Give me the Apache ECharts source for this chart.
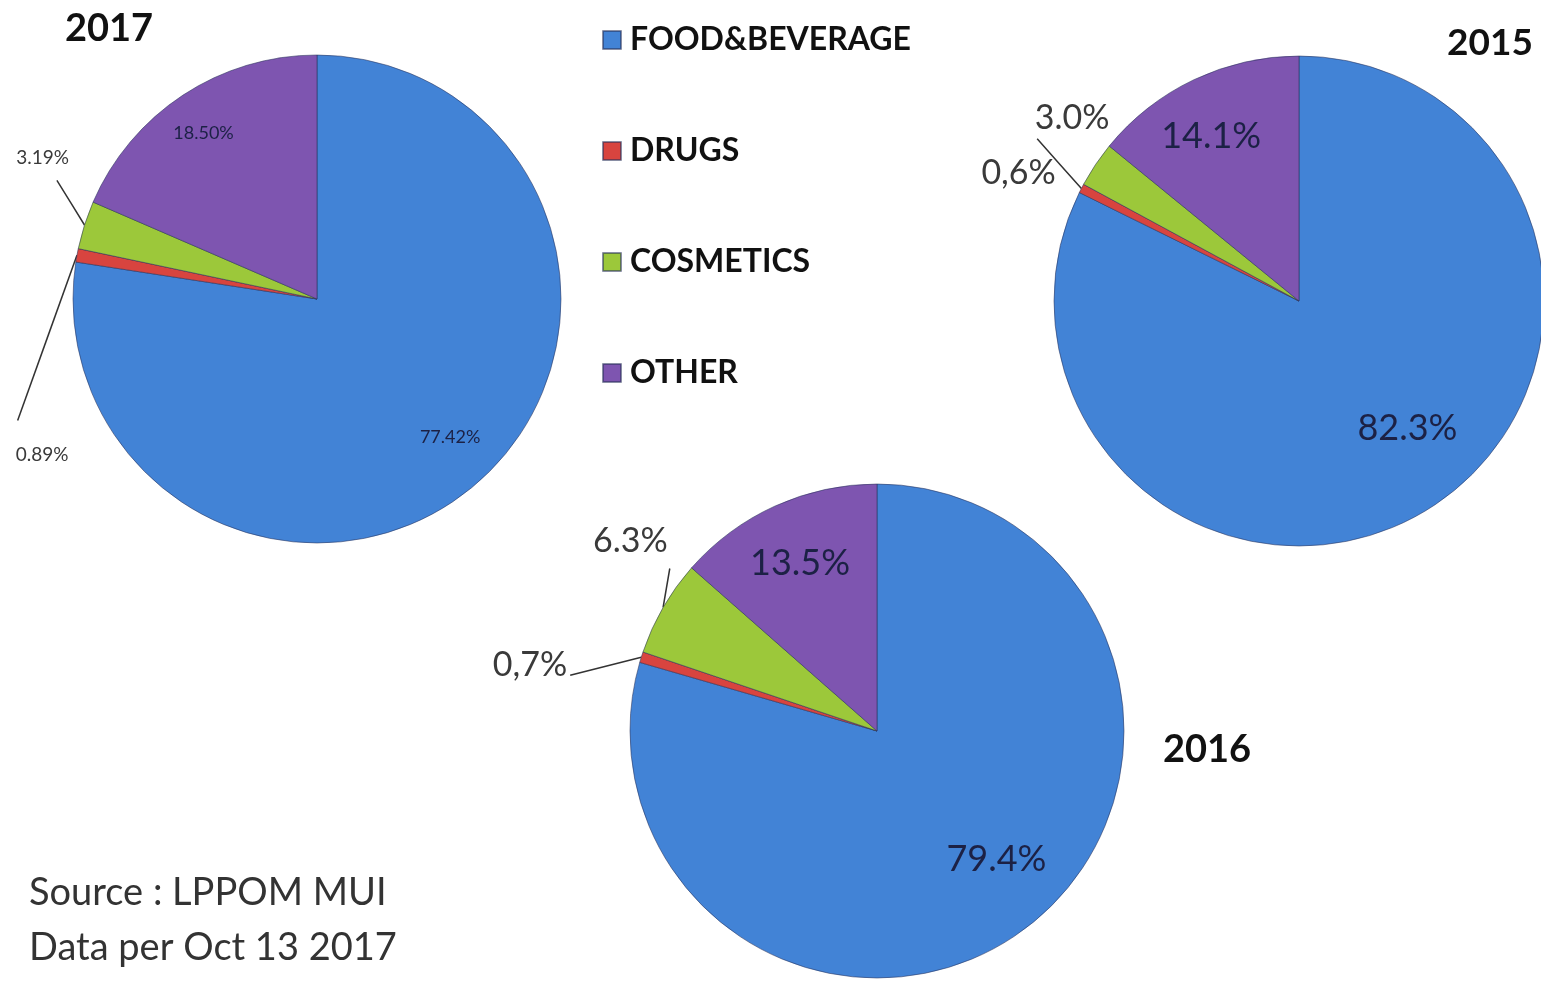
<!DOCTYPE html>
<html>
<head>
<meta charset="utf-8">
<script src="https://cdn.jsdelivr.net/npm/echarts@6/dist/echarts.min.js"></script>
<style>
html,body{margin:0;padding:0;background:#fff;}
#main{width:1541px;height:982px;}
</style>
</head>
<body>
<div id="main"></div>
<script>
var categories = ['FOOD&BEVERAGE', 'DRUGS', 'COSMETICS', 'OTHER'];
var values2017 = [77.42, 0.89, 3.19, 18.50];
var labels2017 = ['77.42%', '0.89%', '3.19%', '18.50%'];
var values2015 = [82.3, 0.6, 3.0, 14.1];
var labels2015 = ['82.3%', '0,6%', '3.0%', '14.1%'];
var values2016 = [79.4, 0.7, 6.3, 13.5];
var labels2016 = ['79.4%', '0,7%', '6.3%', '13.5%'];
var years = ['2017', '2015', '2016'];

var colors = ['#4283d6', '#d8443f', '#9cc83a', '#7e55b0'];
var FONT = 'Lato, "Open Sans", sans-serif';

// label nudges (pixels) per label series, per slice
var labelNudge = {
  3: [[8, -8], [36, 205], [28, -58], [-8, -5]],
  4: [[15, -23], [0, -11], [54, -30], [-12, -5]],
  5: [[10, -17], [-10, 14], [37, -56], [-2, -2]]
};
// leader line end, relative to the moved label box: [fx, fy, ox, oy]; null = no line
var lineEnd = {
  3: [null, [0, 0, 2, -25], [1, 1, -12, 13], null],
  4: [null, [0.75, 0, 0, -17], null, null],
  5: [null, [1, 0.5, 3, 10], [1, 1, 2, 10], null]
};

function realSeries(values, center, radius) {
  return {
    type: 'pie',
    center: center,
    radius: radius,
    startAngle: 90,
    clockwise: true,
    silent: true,
    animation: false,
    label: { show: false },
    labelLine: { show: false },
    itemStyle: { borderColor: 'rgba(40,50,90,0.55)', borderWidth: 1 },
    data: categories.map(function (c, i) {
      return { name: c, value: values[i], itemStyle: { color: colors[i] } };
    })
  };
}

function layoutFn(p) {
  var n = labelNudge[p.seriesIndex];
  if (!n || !n[p.dataIndex]) return {};
  var dx = n[p.dataIndex][0], dy = n[p.dataIndex][1];
  var res = { dx: dx, dy: dy };
  var pts = p.labelLinePoints;
  if (pts && pts.length) {
    var le = lineEnd[p.seriesIndex] && lineEnd[p.seriesIndex][p.dataIndex];
    var s = pts[0];
    if (le) {
      var r = p.labelRect;
      var ex = r.x + dx + le[0] * r.width + le[2];
      var ey = r.y + dy + le[1] * r.height + le[3];
      res.labelLinePoints = [[s[0], s[1]], [(s[0] + ex) / 2, (s[1] + ey) / 2], [ex, ey]];
    } else {
      res.labelLinePoints = [[s[0], s[1]], [s[0], s[1]], [s[0], s[1]]];
    }
  }
  return res;
}

function labelSeries(values, labels, center, radius, inner, insideSize, outsideSize, outsideOpts) {
  return {
    type: 'pie',
    center: center,
    radius: [inner, radius],
    startAngle: 90,
    clockwise: true,
    silent: true,
    animation: false,
    itemStyle: { color: 'rgba(0,0,0,0)' },
    emphasis: { disabled: true },
    labelLayout: layoutFn,
    data: categories.map(function (c, i) {
      var outside = values[i] < 7;
      var o = outsideOpts[i] || {};
      return {
        name: c,
        value: values[i],
        itemStyle: { color: 'rgba(0,0,0,0)' },
        label: outside ? {
          show: true,
          position: 'outside',
          formatter: labels[i],
          fontFamily: FONT,
          fontSize: outsideSize,
          color: '#3a3a3a',
          overflow: 'none',
          padding: 0
        } : {
          show: true,
          position: 'inside',
          formatter: labels[i],
          fontFamily: FONT,
          fontSize: insideSize,
          overflow: 'none',
          color: '#1c2145'
        },
        labelLine: outside ? {
          show: true,
          length: o.length || 20,
          length2: o.length2 || 10,
          lineStyle: { color: '#333', width: 1.5 }
        } : { show: false }
      };
    })
  };
}

var c2017 = [317, 299], r2017 = 244;
var c2015 = [1299, 301], r2015 = 245;
var c2016 = [877, 731], r2016 = 247;

var option = {
  backgroundColor: '#ffffff',
  animation: false,
  color: colors,
  title: [
    { text: years[0], left: 60, top: 5, textStyle: { fontFamily: FONT, fontSize: 38, fontWeight: 'bold', color: '#111' } },
    { text: years[1], left: 1442, top: 20, textStyle: { fontFamily: FONT, fontSize: 37, fontWeight: 'bold', color: '#111' } },
    { text: years[2], left: 1158, top: 726, textStyle: { fontFamily: FONT, fontSize: 38, fontWeight: 'bold', color: '#111' } },
    { text: 'Source : LPPOM MUI\nData per Oct 13 2017', left: 24, top: 860,
      textStyle: { fontFamily: FONT, fontSize: 38, fontWeight: 'normal', color: '#333', lineHeight: 55 } }
  ],
  legend: {
    orient: 'vertical',
    left: 597,
    top: 19,
    itemWidth: 18,
    itemHeight: 18,
    itemGap: 79,
    icon: 'rect',
    selectedMode: false,
    data: categories,
    textStyle: { fontFamily: FONT, fontSize: 32, fontWeight: 'bold', color: '#111', padding: [0, 0, 0, 4] }
  },
  series: [
    realSeries(values2017, c2017, r2017),
    realSeries(values2015, c2015, r2015),
    realSeries(values2016, c2016, r2016),
    labelSeries(values2017, labels2017, c2017, r2017, r2017 * 0.55, 18, 19,
      { 1: { length: 30, length2: 10 }, 2: { length: 30, length2: 10 } }),
    labelSeries(values2015, labels2015, c2015, r2015, r2015 * 0.42, 36, 34,
      { 1: { length: 10, length2: 10 }, 2: { length: 30, length2: 10 } }),
    labelSeries(values2016, labels2016, c2016, r2016, r2016 * 0.45, 36, 34,
      { 1: { length: 20, length2: 40 }, 2: { length: 20, length2: 10 } })
  ]
};

var chart = echarts.init(document.getElementById('main'), null, { renderer: 'canvas' });
chart.setOption(option);
</script>
</body>
</html>
